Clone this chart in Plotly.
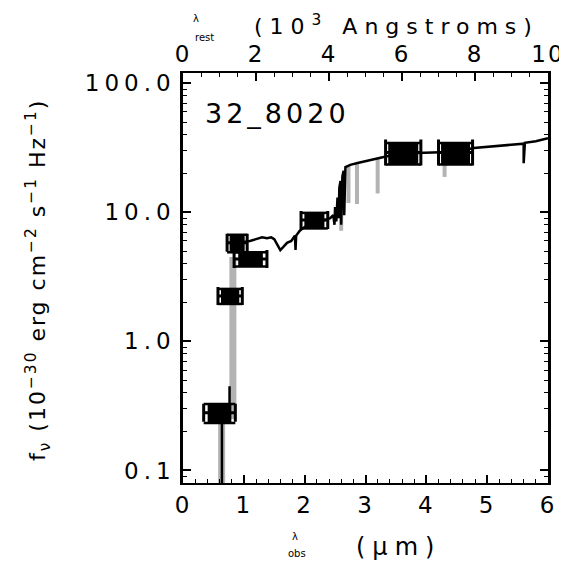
import plotly.graph_objects as go
import numpy as np

# ---------------- data ----------------
# photometry: observed wavelength (um), half filter width (um), flux, flux error
phot_wl = [0.60, 0.775, 0.89, 1.11, 2.16]
phot_dwl = [0.26, 0.20, 0.165, 0.27, 0.22]
phot_f = [0.28, 2.25, 5.8, 4.35, 8.7]
phot_err = [0.047, 0.30, 0.9, 0.55, 1.2]

irac_wl = [3.62, 4.48]
irac_dwl = [0.29, 0.28]
irac_f = [29.0, 29.0]
irac_err = [5.5, 5.5]

# model spectrum (black), None = break in the line
model_wl = [0.64, 0.64, 0.765, 0.765, None,
            0.84, 0.90, 1.00, 1.10, 1.20, 1.30, 1.38, 1.45, 1.50, 1.55, 1.60, 1.65,
            1.71, 1.78, 1.84, 1.85, 1.86, 1.92, 1.98, 2.05, 2.15, 2.30, 2.42, 2.47,
            2.49, 2.50, 2.52, 2.54, 2.56, 2.57, 2.59, 2.60, 2.62, 2.64, 2.65, 2.67,
            2.75, 2.87, 3.05, 3.30, 3.57, 3.80, 4.12, 4.50, 4.78, 5.10, 5.50, 5.60,
            5.60, 5.62, 5.80, 5.90, 6.00]
model_f = [0.07, 0.30, 0.30, 0.45, None,
           5.6, 5.8, 5.9, 6.0, 6.2, 6.4, 6.3, 6.4, 6.2, 5.6, 5.1, 5.4,
           5.8, 6.0, 6.6, 5.1, 6.6, 7.2, 7.6, 7.9, 8.4, 8.6, 9.0, 9.5,
           8.0, 11.0, 8.5, 13.0, 9.0, 15.5, 17.5, 8.0, 19.0, 21.0, 9.5, 22.4,
           23.3, 24.1, 25.3, 26.8, 28.5, 28.8, 29.0, 29.5, 31.5, 32.5, 34.0, 34.0,
           24.0, 34.5, 35.5, 36.5, 37.5]

# high-resolution model (grey): absorption features and Lyman-break columns
grey_wl = [2.60, 2.60, None, 2.72, 2.72, None, 2.86, 2.86, None,
           3.20, 3.20, None, 4.30, 4.30]
grey_f = [17.5, 7.2, None, 23.0, 11.8, None, 24.0, 11.6, None,
          26.0, 14.0, None, 29.2, 18.8]
lyman_wl = [0.635, 0.635, None, 0.82, 0.82]
lyman_f = [0.07, 0.30, None, 0.25, 4.5]

rest_ticks = [0, 2, 4, 6, 8, 10]
obs_ticks = [0, 1, 2, 3, 4, 5, 6]
flux_ticks = [0.1, 1, 10, 100]
flux_ticktext = ["0.1", "1.0", "10.0", "100.0"]
flux_minor = [0.08, 0.09] + [m * d for d in (0.1, 1, 10) for m in range(2, 10)]
label = "32_8020"

# ---------------- figure ----------------
# page is offset by the 8px body margin; positions below are page pixels
OFF = 8
PW, PH = 567, 563
W, H = PW - OFF, PH - OFF
L, R, T, B = 183, 548, 73, 483
XMIN, XMAX = 0, 6
PPU = (R - L) / (XMAX - XMIN)   # pixels per micron
FONT = "DejaVu Sans"

def px(x):
    return (x - L) / (R - L)

def py(y):
    return (B - y) / (B - T)

def wide(s, sp):
    return f'<span style="letter-spacing:{sp}px">{s}</span>'

fig = go.Figure()
GREY = "#b3b3b3"
fig.add_trace(go.Scatter(x=lyman_wl, y=lyman_f, mode="lines",
                         line=dict(color=GREY, width=7), hoverinfo="skip", showlegend=False))
fig.add_trace(go.Scatter(x=grey_wl, y=grey_f, mode="lines",
                         line=dict(color=GREY, width=4), hoverinfo="skip", showlegend=False))
fig.add_trace(go.Scatter(x=model_wl, y=model_f, mode="lines", connectgaps=False,
                         line=dict(color="black", width=2.5), hoverinfo="skip", showlegend=False))

def add_points(wl, dwl, f, err, cap, fill):
    for w, d, v, e in zip(wl, dwl, f, err):
        # filled body of the box
        fig.add_trace(go.Scatter(x=[w], y=[v], mode="markers", marker=dict(size=1, opacity=0),
                                 error_y=dict(type="data", array=[e], color="black",
                                              thickness=2 * d * PPU * fill, width=0),
                                 hoverinfo="skip", showlegend=False))
        # top and bottom edges
        fig.add_trace(go.Scatter(x=[w, w], y=[v + e, v - e], mode="markers",
                                 marker=dict(size=1, opacity=0),
                                 error_x=dict(type="data", array=[d, d], color="black",
                                              thickness=2.5, width=0),
                                 hoverinfo="skip", showlegend=False))
        # central bar with end caps
        fig.add_trace(go.Scatter(x=[w], y=[v], mode="markers",
                                 marker=dict(symbol="square", size=8, color="black"),
                                 error_x=dict(type="data", array=[d], color="black",
                                              thickness=3, width=cap),
                                 hoverinfo="skip", showlegend=False))

add_points(phot_wl, phot_dwl, phot_f, phot_err, 9, 0.75)
add_points(irac_wl, irac_dwl, irac_f, irac_err, 13, 0.85)

# invisible trace to activate the top (rest-frame) axis
fig.add_trace(go.Scatter(x=rest_ticks, y=[1] * len(rest_ticks), xaxis="x2", mode="markers",
                         marker=dict(opacity=0), hoverinfo="skip", showlegend=False))

tickfont = dict(family=FONT, size=23, color="black")
fig.update_layout(
    width=W, height=H,
    margin=dict(l=L - OFF, r=PW - R, t=T - OFF, b=PH - B, pad=0, autoexpand=False),
    paper_bgcolor="white", plot_bgcolor="white",
    font=dict(family=FONT, color="black"),
    xaxis=dict(range=[XMIN, XMAX], tickvals=obs_ticks, ticktext=[wide(str(v), 2) for v in obs_ticks],
               ticks="inside", ticklen=8, tickwidth=1.5, automargin=False,
               tickcolor="black", showline=True, linecolor="black", linewidth=2,
               showgrid=False, zeroline=False, tickfont=tickfont,
               minor=dict(dtick=0.2, ticks="inside", ticklen=4, tickwidth=1.2,
                          tickcolor="black", showgrid=False)),
    xaxis2=dict(range=[0, 10], overlaying="x", side="top", tickvals=rest_ticks,
                ticktext=[wide(str(v), 2) for v in rest_ticks], automargin=False,
                ticks="inside", ticklen=8, tickwidth=1.5, tickcolor="black",
                showline=True, linecolor="black", linewidth=2, showgrid=False,
                zeroline=False, tickfont=tickfont,
                minor=dict(dtick=0.5, ticks="inside", ticklen=4, tickwidth=1.2,
                           tickcolor="black", showgrid=False)),
    yaxis=dict(type="log", range=[np.log10(0.08), np.log10(120)], tickvals=flux_ticks,
               ticktext=[wide(t, 5) for t in flux_ticktext], ticks="inside", ticklen=8,
               tickwidth=1.5, automargin=False,
               tickcolor="black", showline=True, linecolor="black", linewidth=2.5,
               mirror="ticks", showgrid=False, zeroline=False, tickfont=tickfont,
               minor=dict(tickvals=flux_minor, ticks="inside", ticklen=4, tickwidth=1.2,
                          tickcolor="black", showgrid=False)),
)

ann = []
def text(x, y, s, size, anchor="center", angle=0):
    ann.append(dict(x=px(x), y=py(y), xref="paper", yref="paper", text=s, showarrow=False,
                    xanchor=anchor, yanchor="middle", textangle=angle,
                    font=dict(family=FONT, size=size, color="black")))

text(203, 113, wide(label, 4), 27, anchor="left")
# bottom axis title
text(295, 536, "λ", 10)
text(297, 553, "obs", 10)
text(398, 547, wide("(μm)", 7), 24)
# top axis title
text(196, 18, "λ", 10)
text(204, 38, "rest", 10)
text(396, 25, wide("(10<sup>3</sup> Angstroms)", 7), 22)
# y axis title
text(38, 280, wide("f<sub>ν</sub> (10<sup>−30</sup> erg cm<sup>−2</sup> s<sup>−1</sup> Hz<sup>−1</sup>)", 2),
     22, angle=-90)
fig.update_layout(annotations=ann)

fig.write_html("out.html")
